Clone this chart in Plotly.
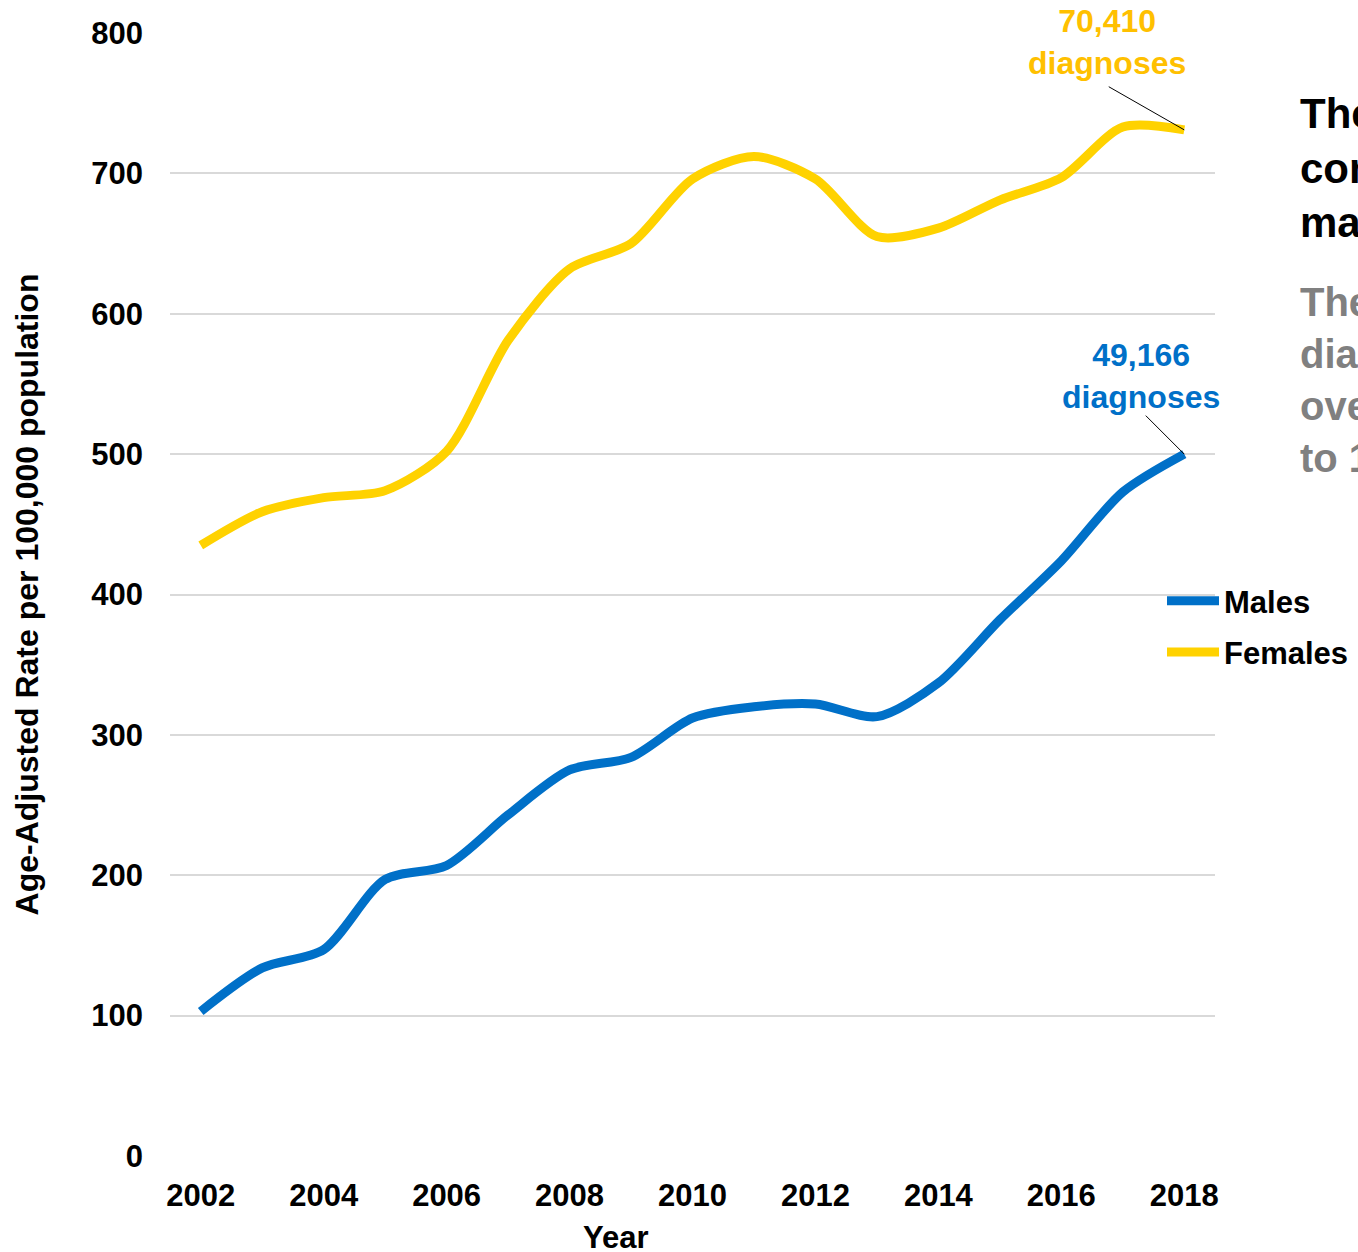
import plotly.graph_objects as go

years = list(range(2002, 2019))
males = [103, 134, 147, 197, 207, 243, 275, 284, 312, 320, 322, 313, 337, 382, 424, 473, 500]
females = [435, 459, 469, 474, 502, 581, 632, 650, 696, 712, 696, 655, 661, 681, 697, 733, 731]
x_ticks = [2002, 2004, 2006, 2008, 2010, 2012, 2014, 2016, 2018]
y_ticks = [0, 100, 200, 300, 400, 500, 600, 700, 800]

BLUE = "#0070C8"
YELLOW = "#FFD200"
GOLD = "#FFC000"
FONT = "Liberation Sans, Arial, sans-serif"

L, R, T, B = 170, 143, 33, 96
W, H = 1358, 1252
def px(xp):
    return (xp - L) / (W - L - R)
def py(yp):
    return 1 - (yp - T) / (H - T - B)
def yr(xp):
    return 2002 + (xp - 201) / 61.5
def val(yp):
    return (1156 - yp) / 1.404

fig = go.Figure()
fig.add_trace(go.Scatter(x=years, y=males, name="<b>Males</b>", mode="lines", legendgroup="m",
                         line=dict(color=BLUE, width=9, shape="spline", smoothing=0.8)))
fig.add_trace(go.Scatter(x=years, y=females, name="<b>Females</b>", mode="lines", legendgroup="f",
                         line=dict(color=YELLOW, width=9, shape="spline", smoothing=0.8)))

# leader lines
fig.add_annotation(x=2018, y=females[-1], xref="x", yref="y", text="", showarrow=True,
                   ax=-77, ay=-44, arrowhead=0, arrowwidth=1, arrowcolor="black", standoff=0)
fig.add_annotation(x=2018, y=males[-1], xref="x", yref="y", text="", showarrow=True,
                   ax=-40, ay=-40, arrowhead=0, arrowwidth=1, arrowcolor="black", standoff=0)
# labels
fig.add_annotation(x=yr(1108), y=val(42), xref="x", yref="y", showarrow=False,
                   text="<b>70,410<br>diagnoses</b>", align="center",
                   font=dict(family=FONT, size=32, color=GOLD))
fig.add_annotation(x=yr(1142), y=val(376), xref="x", yref="y", showarrow=False,
                   text="<b>49,166<br>diagnoses</b>", align="center",
                   font=dict(family=FONT, size=32, color=BLUE))

# right-side explanatory text (clipped by page edge)
fig.add_annotation(x=px(1298), y=py(88), xref="paper", yref="paper",
                   xanchor="left", yanchor="top", align="left", showarrow=False,
                   text="<b>The rate among females is<br>consistently higher than<br>males</b>",
                   font=dict(family=FONT, size=42, color="black"))
fig.add_annotation(x=px(1298), y=py(278), xref="paper", yref="paper",
                   xanchor="left", yanchor="top", align="left", showarrow=False,
                   text="<b>The number of new<br>diagnoses increased<br>over the period 2002<br>to 18 years</b>",
                   font=dict(family=FONT, size=40, color="#808080"))

# x axis title
fig.add_annotation(x=px(616), y=py(1237), xref="paper", yref="paper", showarrow=False,
                   text="<b>Year</b>", font=dict(family=FONT, size=31, color="black"),
                   xanchor="center", yanchor="middle")

fig.update_layout(
    width=W, height=H,
    margin=dict(l=L, r=R, t=T, b=B, autoexpand=False),
    paper_bgcolor="white", plot_bgcolor="white",
    font=dict(family=FONT, size=31, color="black"),
    showlegend=True,
    legend=dict(x=px(1162), y=py(574), xanchor="left", yanchor="top",
                font=dict(family=FONT, size=31, color="black"),
                bgcolor="rgba(0,0,0,0)", itemwidth=52, tracegroupgap=8),
    xaxis=dict(range=[2001.5, 2018.5], tickmode="array", tickvals=x_ticks,
               ticktext=[f"<b>{t}</b>" for t in x_ticks], showgrid=False,
               zeroline=False, showline=False, ticks="", ticklabelstandoff=18),
    yaxis=dict(range=[0, 800], tickmode="array", tickvals=y_ticks,
               ticktext=[f"<b>{t}</b>" for t in y_ticks], showgrid=True,
               gridcolor="#D9D9D9", gridwidth=2, zeroline=False, showline=False,
               ticks="", ticklabelstandoff=26,
               title=dict(text="<b>Age-Adjusted Rate per 100,000 population</b>",
                          font=dict(size=32), standoff=43)),
)

fig.write_html("out.html", config={"displayModeBar": False},
               post_script="document.body.style.margin='0';")
